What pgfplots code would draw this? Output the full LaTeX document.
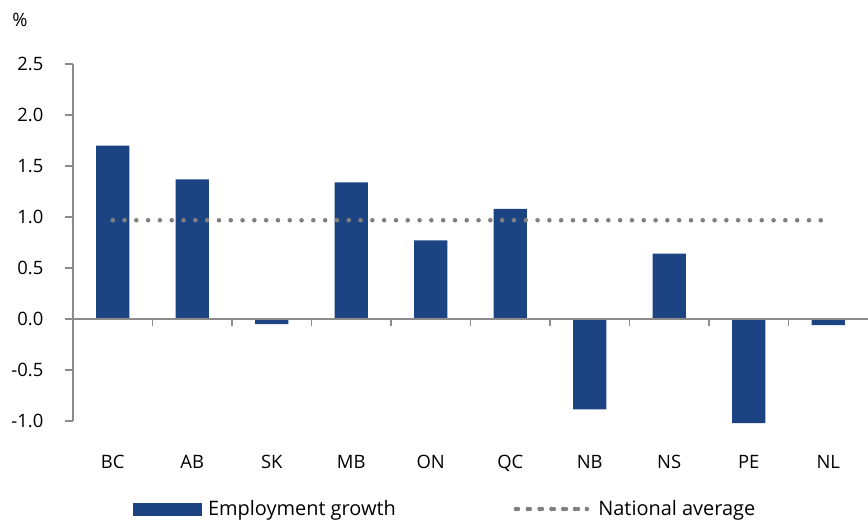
\documentclass[border=0pt]{standalone}
\usepackage{fontspec}
\setmainfont{Open Sans}
\usepackage{pgfplots}
\pgfplotsset{compat=1.18}
\definecolor{barblue}{HTML}{1C4482}
\definecolor{dotgray}{HTML}{808080}
\definecolor{axgray}{HTML}{8C8C8C}
\begin{document}
\begin{tikzpicture}
\path[use as bounding box] (0,0) rectangle (868bp,521bp);
\begin{axis}[
  at={(73bp,100bp)}, anchor=south west,
  scale only axis, width=795bp, height=357bp,
  xmin=-0.5, xmax=9.5, ymin=-1, ymax=2.5,
  clip=false,
  axis lines*=left,
  x axis line style={draw=none},
  y axis line style={axgray, line width=1.3bp},
  ytick={-1,-0.5,0,0.5,1,1.5,2,2.5},
  yticklabels={-1.0,-0.5,0.0,0.5,1.0,1.5,2.0,2.5},
  xtick={0,1,2,3,4,5,6,7,8,9},
  xticklabels={BC,AB,SK,MB,ON,QC,NB,NS,PE,NL},
  tick align=outside,
  major tick length=8bp,
  ytick style={axgray, line width=1.3bp},
  xtick style={draw=none},
  tick label style={font=\fontsize{18.5}{22}\selectfont},
  yticklabel style={anchor=east, inner sep=0pt, xshift=-21.5bp},
  xticklabel style={anchor=base, inner sep=0pt, yshift=-39bp},
  legend columns=2,
  legend style={draw=none, fill=none, at={(axis description cs:0.0755,-0.2465)}, anchor=west,
    inner sep=0pt, outer sep=0pt, font=\fontsize{20}{24}\selectfont,
    nodes={inner sep=0pt},
    /tikz/every odd column/.append style={column sep=6bp},
    /tikz/every even column/.append style={column sep=118bp}},
]
\addplot[ybar, bar width=33.3bp, fill=barblue, draw=none,
  legend image code/.code={\fill[barblue] (0bp,-6.5bp) rectangle (69bp,6.5bp);}]
  coordinates {(0,1.70) (1,1.37) (2,-0.05) (3,1.34) (4,0.77) (5,1.08) (6,-0.885) (7,0.64) (8,-1.02) (9,-0.06)};
\addlegendentry{Employment growth}
\addplot[dotgray, line width=4.6bp, line cap=round, dash pattern=on 0pt off 11.8bp, mark=none,
  legend image code/.code={\path (0bp,0bp) -- (74bp,0bp); \draw[dotgray, line width=4.2bp, line cap=round, dash pattern=on 0pt off 12bp] (2bp,0bp) -- (62.5bp,0bp);}]
  coordinates {(0,0.968) (9,0.968)};
\addlegendentry{National average}
\draw[axgray, line width=1.3bp] (axis cs:-0.5,0) -- (axis cs:9.5,0);
\pgfplotsinvokeforeach{0.5,1.5,2.5,3.5,4.5,5.5,6.5,7.5,8.5}{
  \draw[axgray, line width=1.3bp] (axis cs:#1,0) -- ([yshift=-7bp]axis cs:#1,0);
}
\end{axis}
\node[font=\fontsize{18.5}{22}\selectfont] at (20bp,501.5bp) {\%};
\end{tikzpicture}
\end{document}
